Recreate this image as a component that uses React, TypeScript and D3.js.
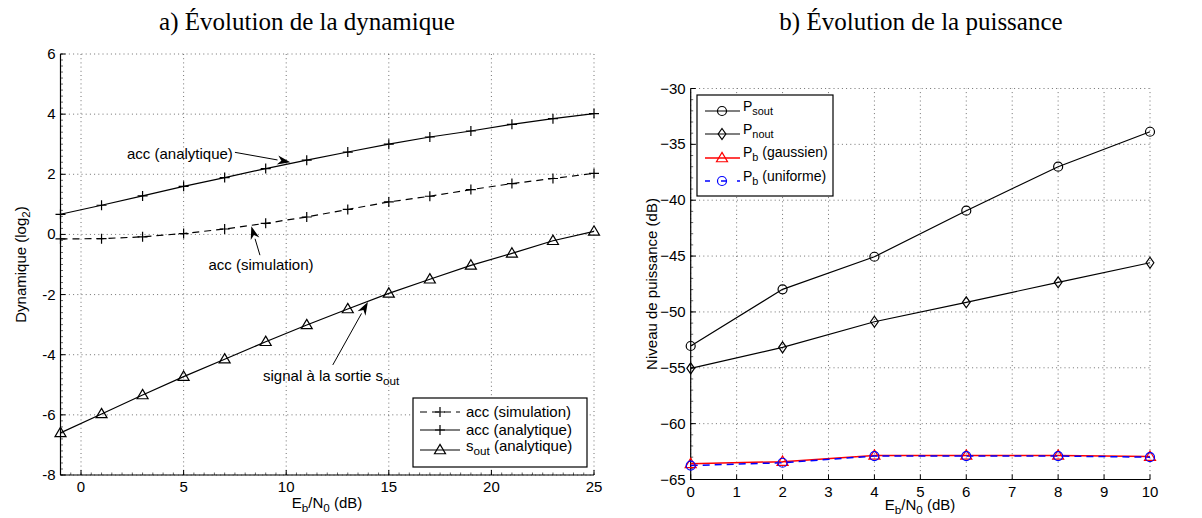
import React from 'react';
import * as d3 from 'd3';

// ---------- data : a) Évolution de la dynamique ----------
const dynX = [-1, 1, 3, 5, 7, 9, 11, 13, 15, 17, 19, 21, 23, 25];
const accSim = [-0.15, -0.14, -0.08, 0.03, 0.18, 0.37, 0.58, 0.83, 1.08, 1.27, 1.49, 1.69, 1.86, 2.03];
const accAna = [0.67, 0.97, 1.28, 1.6, 1.89, 2.19, 2.47, 2.74, 3.0, 3.24, 3.44, 3.66, 3.85, 4.02];
const sOut = [-6.6, -5.97, -5.34, -4.73, -4.15, -3.57, -3.01, -2.48, -1.96, -1.49, -1.03, -0.63, -0.21, 0.1];
const dynXTicks = [0, 5, 10, 15, 20, 25];
const dynYTicks = [-8, -6, -4, -2, 0, 2, 4, 6];

// ---------- data : b) Évolution de la puissance ----------
const pX = [0, 2, 4, 6, 8, 10];
const pSout = [-53.05, -47.98, -45.06, -40.94, -37.0, -33.87];
const pNout = [-55.05, -53.17, -50.88, -49.14, -47.35, -45.6];
const pbGauss = [-63.6, -63.4, -62.85, -62.85, -62.85, -62.95];
const pbUnif = [-63.75, -63.5, -62.9, -62.9, -62.9, -63.0];
const pXTicks = [0, 1, 2, 3, 4, 5, 6, 7, 8, 9, 10];
const pYTicks = [-65, -60, -55, -50, -45, -40, -35, -30];

// annotations (data coords): [textX, textY, tailX, tailY, headX, headY]
const annAna = [7.4, 2.66, 7.5, 2.73, 10.2, 2.4];
const annSim = [8.77, -1.02, 8.72, -0.69, 8.3, 0.27];
const annSig = [8.87, -4.71, 12.27, -4.34, 13.98, -2.25];

const SANS = 'Liberation Sans, Arial, Helvetica, sans-serif';
const SERIF = 'Liberation Serif, Times New Roman, serif';
const FS = 15;

function Plus({ x, y, s = 5 }: any) {
  return <path d={`M${x - s},${y}H${x + s}M${x},${y - s}V${y + s}`} stroke="#000" strokeWidth={1.2} fill="none" />;
}
function Tri({ x, y, s = 5.5, color = '#000' }: any) {
  const h = s * 1.7;
  return <path d={`M${x},${y - h * 0.6}L${x + s},${y + h * 0.4}L${x - s},${y + h * 0.4}Z`} stroke={color} strokeWidth={1.2} fill="none" />;
}
function Circ({ x, y, r = 4.5, color = '#000' }: any) {
  return <circle cx={x} cy={y} r={r} stroke={color} strokeWidth={1.2} fill="none" />;
}
function Diam({ x, y, s = 5.5, color = '#000' }: any) {
  return <path d={`M${x},${y - s}L${x + s * 0.7},${y}L${x},${y + s}L${x - s * 0.7},${y}Z`} stroke={color} strokeWidth={1.2} fill="none" />;
}

function Arrow({ x1, y1, x2, y2 }: any) {
  const a = Math.atan2(y2 - y1, x2 - x1);
  const L = 13, W = 4.5;
  const bx = x2 - L * Math.cos(a), by = y2 - L * Math.sin(a);
  const p1 = [bx + W * Math.sin(a), by - W * Math.cos(a)];
  const p2 = [bx - W * Math.sin(a), by + W * Math.cos(a)];
  const n = [x2 - L * 0.7 * Math.cos(a), y2 - L * 0.7 * Math.sin(a)];
  return (
    <g>
      <line x1={x1} y1={y1} x2={bx} y2={by} stroke="#000" strokeWidth={1} />
      <path d={`M${x2},${y2}L${p1[0]},${p1[1]}L${n[0]},${n[1]}L${p2[0]},${p2[1]}Z`} fill="#000" />
    </g>
  );
}

function Sub({ main, sub, rest = '' }: any) {
  return (
    <>
      <tspan>{main}</tspan>
      <tspan dy={4} fontSize="0.78em">{sub}</tspan>
      <tspan dy={-4}>{rest}</tspan>
    </>
  );
}

function Grid({ x, y, xt, yt }: any) {
  const [x0, x1] = x.range();
  const [y0, y1] = y.range();
  return (
    <g stroke="#333" strokeWidth={0.7} strokeDasharray="1,3.2">
      {xt.map((t: number) => (
        <line key={'gx' + t} x1={x(t)} x2={x(t)} y1={y0} y2={y1} />
      ))}
      {yt.map((t: number) => (
        <line key={'gy' + t} x1={x0} x2={x1} y1={y(t)} y2={y(t)} />
      ))}
    </g>
  );
}

function Axes({ x, y, xt, yt, xminor, yminor, fmtY }: any) {
  const [x0] = x.range();
  const [y0] = y.range();
  const [xa, xb] = x.domain();
  const [ya, yb] = y.domain();
  const minorX: number[] = xminor ? d3.range(Math.ceil(xa / xminor) * xminor, xb + 1e-9, xminor) : [];
  const minorY: number[] = yminor ? d3.range(Math.ceil(ya / yminor) * yminor, yb + 1e-9, yminor) : [];
  return (
    <g>
      <g stroke="#000" strokeWidth={0.6}>
        {minorX.map((t, i) => (
          <line key={'mx' + i} x1={x(t)} x2={x(t)} y1={y0} y2={y0 - 2.5} />
        ))}
        {minorY.map((t, i) => (
          <line key={'my' + i} x1={x0} x2={x0 + 2.5} y1={y(t)} y2={y(t)} />
        ))}
      </g>
      <g stroke="#000" strokeWidth={1}>
        {xt.map((t: number) => (
          <line key={'tx' + t} x1={x(t)} x2={x(t)} y1={y0} y2={y0 - 5} />
        ))}
        {yt.map((t: number) => (
          <line key={'ty' + t} x1={x0} x2={x0 + 5} y1={y(t)} y2={y(t)} />
        ))}
      </g>
      <line x1={x0} x2={x.range()[1]} y1={y0} y2={y0} stroke="#000" strokeWidth={1.2} />
      <line x1={x0} x2={x0} y1={y0} y2={y.range()[1]} stroke="#000" strokeWidth={1.2} />
      <g fontFamily={SANS} fontSize={FS} fill="#000">
        {xt.map((t: number) => (
          <text key={'lx' + t} x={x(t)} y={y0 + 17} textAnchor="middle">{fmtY(t)}</text>
        ))}
        {yt.map((t: number) => (
          <text key={'ly' + t} x={x0 - 5} y={y(t) + 5} textAnchor="end">{fmtY(t)}</text>
        ))}
      </g>
    </g>
  );
}

export default function App() {
  // left panel
  const lx = d3.scaleLinear().domain([-1, 25]).range([60.5, 594]);
  const ly = d3.scaleLinear().domain([-8, 6]).range([475, 54]);
  // right panel
  const rx = d3.scaleLinear().domain([0, 10]).range([690.7, 1150]);
  const ry = d3.scaleLinear().domain([-65, -30]).range([479.5, 88.5]);

  const lineL = (ys: number[]) => d3.line<number>().x((_, i) => lx(dynX[i])).y((v) => ly(v))(ys) as string;
  const lineR = (ys: number[]) => d3.line<number>().x((_, i) => rx(pX[i])).y((v) => ry(v))(ys) as string;

  const fmtL = (t: number) => String(t);
  const fmtR = (t: number) => String(t).replace('-', '\u2212');

  return (
    <div style={{ position: 'absolute', left: 0, top: 0 }}>
      <svg width={1202} height={518} style={{ display: 'block', background: '#fff' }}>
        <rect width={1202} height={518} fill="#fff" />
        {/* titles */}
        <text x={307} y={30} textAnchor="middle" fontFamily={SERIF} fontSize={25}>a) Évolution de la dynamique</text>
        <text x={921} y={30} textAnchor="middle" fontFamily={SERIF} fontSize={25}>b) Évolution de la puissance</text>

        {/* ---------- left panel ---------- */}
        <Grid x={lx} y={ly} xt={dynXTicks} yt={dynYTicks} />
        <Axes x={lx} y={ly} xt={dynXTicks} yt={dynYTicks} xminor={0.5} yminor={0.2} fmtY={fmtL} />
        <path d={lineL(accSim)} fill="none" stroke="#000" strokeWidth={1.2} strokeDasharray="7,5" />
        <path d={lineL(accAna)} fill="none" stroke="#000" strokeWidth={1.2} />
        <path d={lineL(sOut)} fill="none" stroke="#000" strokeWidth={1.2} />
        {dynX.map((v, i) => <Plus key={'ps' + i} x={lx(v)} y={ly(accSim[i])} />)}
        {dynX.map((v, i) => <Plus key={'pa' + i} x={lx(v)} y={ly(accAna[i])} />)}
        {dynX.map((v, i) => <Tri key={'ts' + i} x={lx(v)} y={ly(sOut[i])} />)}

        {/* annotations */}
        <g fontFamily={SANS} fontSize={FS}>
          <text x={lx(annAna[0])} y={ly(annAna[1]) + 5} textAnchor="end">acc (analytique)</text>
          <Arrow x1={lx(annAna[2])} y1={ly(annAna[3])} x2={lx(annAna[4])} y2={ly(annAna[5])} />
          <text x={lx(annSim[0])} y={ly(annSim[1]) + 5} textAnchor="middle">acc (simulation)</text>
          <Arrow x1={lx(annSim[2])} y1={ly(annSim[3])} x2={lx(annSim[4])} y2={ly(annSim[5])} />
          <text x={lx(annSig[0])} y={ly(annSig[1]) + 5}>
            <Sub main="signal à la sortie s" sub="out" />
          </text>
          <Arrow x1={lx(annSig[2])} y1={ly(annSig[3])} x2={lx(annSig[4])} y2={ly(annSig[5])} />
        </g>

        {/* axis labels left */}
        <text x={327} y={508} textAnchor="middle" fontFamily={SANS} fontSize={FS}>
          <Sub main="E" sub="b" rest="/N" />
          <tspan dy={4} fontSize="0.78em">0</tspan>
          <tspan dy={-4}> (dB)</tspan>
        </text>
        <text transform={`translate(26,${(54 + 475) / 2}) rotate(-90)`} textAnchor="middle" fontFamily={SANS} fontSize={FS}>
          <Sub main="Dynamique (log" sub="2" rest=")" />
        </text>

        {/* legend left */}
        <g>
          <rect x={413} y={398} width={174} height={69} fill="#fff" stroke="#000" strokeWidth={1.2} />
          <g fontFamily={SANS} fontSize={FS}>
            <line x1={420} x2={460} y1={412} y2={412} stroke="#000" strokeWidth={1.2} strokeDasharray="7,5" />
            <Plus x={440} y={412} />
            <text x={466} y={417}>acc (simulation)</text>
            <line x1={420} x2={460} y1={430} y2={430} stroke="#000" strokeWidth={1.2} />
            <Plus x={440} y={430} />
            <text x={466} y={435}>acc (analytique)</text>
            <line x1={420} x2={460} y1={450} y2={450} stroke="#000" strokeWidth={1.2} />
            <Tri x={440} y={450} />
            <text x={466} y={451}>
              <Sub main="s" sub="out" rest=" (analytique)" />
            </text>
          </g>
        </g>

        {/* ---------- right panel ---------- */}
        <Grid x={rx} y={ry} xt={pXTicks} yt={pYTicks} />
        <Axes x={rx} y={ry} xt={pXTicks} yt={pYTicks} xminor={0} yminor={1} fmtY={fmtR} />
        <path d={lineR(pSout)} fill="none" stroke="#000" strokeWidth={1.2} />
        <path d={lineR(pNout)} fill="none" stroke="#000" strokeWidth={1.2} />
        <path d={lineR(pbGauss)} fill="none" stroke="#ff0000" strokeWidth={1.5} />
        <path d={lineR(pbUnif)} fill="none" stroke="#0000ff" strokeWidth={1.5} strokeDasharray="7,5" />
        {pX.map((v, i) => <Circ key={'cs' + i} x={rx(v)} y={ry(pSout[i])} />)}
        {pX.map((v, i) => <Diam key={'dn' + i} x={rx(v)} y={ry(pNout[i])} />)}
        {pX.map((v, i) => <Tri key={'tg' + i} x={rx(v)} y={ry(pbGauss[i])} color="#ff0000" />)}
        {pX.map((v, i) => <Circ key={'cu' + i} x={rx(v)} y={ry(pbUnif[i])} color="#0000ff" />)}

        <text x={920} y={510} textAnchor="middle" fontFamily={SANS} fontSize={FS}>
          <Sub main="E" sub="b" rest="/N" />
          <tspan dy={4} fontSize="0.78em">0</tspan>
          <tspan dy={-4}> (dB)</tspan>
        </text>
        <text transform={`translate(657,${(88.5 + 479.5) / 2}) rotate(-90)`} textAnchor="middle" fontFamily={SANS} fontSize={FS}>
          Niveau de puissance (dB)
        </text>

        {/* legend right */}
        <g>
          <rect x={697} y={95} width={136} height={101} fill="#fff" stroke="#000" strokeWidth={1.2} />
          <g fontFamily={SANS} fontSize={14}>
            <line x1={705} x2={740} y1={111} y2={111} stroke="#000" strokeWidth={1.2} />
            <Circ x={722} y={111} />
            <text x={743} y={111}><Sub main="P" sub="sout" /></text>
            <line x1={705} x2={740} y1={134} y2={134} stroke="#000" strokeWidth={1.2} />
            <Diam x={722} y={134} />
            <text x={743} y={134}><Sub main="P" sub="nout" /></text>
            <line x1={705} x2={740} y1={158} y2={158} stroke="#ff0000" strokeWidth={1.5} />
            <Tri x={722} y={158} color="#ff0000" />
            <text x={743} y={157}><Sub main="P" sub="b" rest=" (gaussien)" /></text>
            <line x1={705} x2={740} y1={181} y2={181} stroke="#0000ff" strokeWidth={1.5} strokeDasharray="5,11" strokeDashoffset={0} />
            <Circ x={722} y={181} color="#0000ff" />
            <text x={743} y={181}><Sub main="P" sub="b" rest=" (uniforme)" /></text>
          </g>
        </g>
      </svg>
    </div>
  );
}
